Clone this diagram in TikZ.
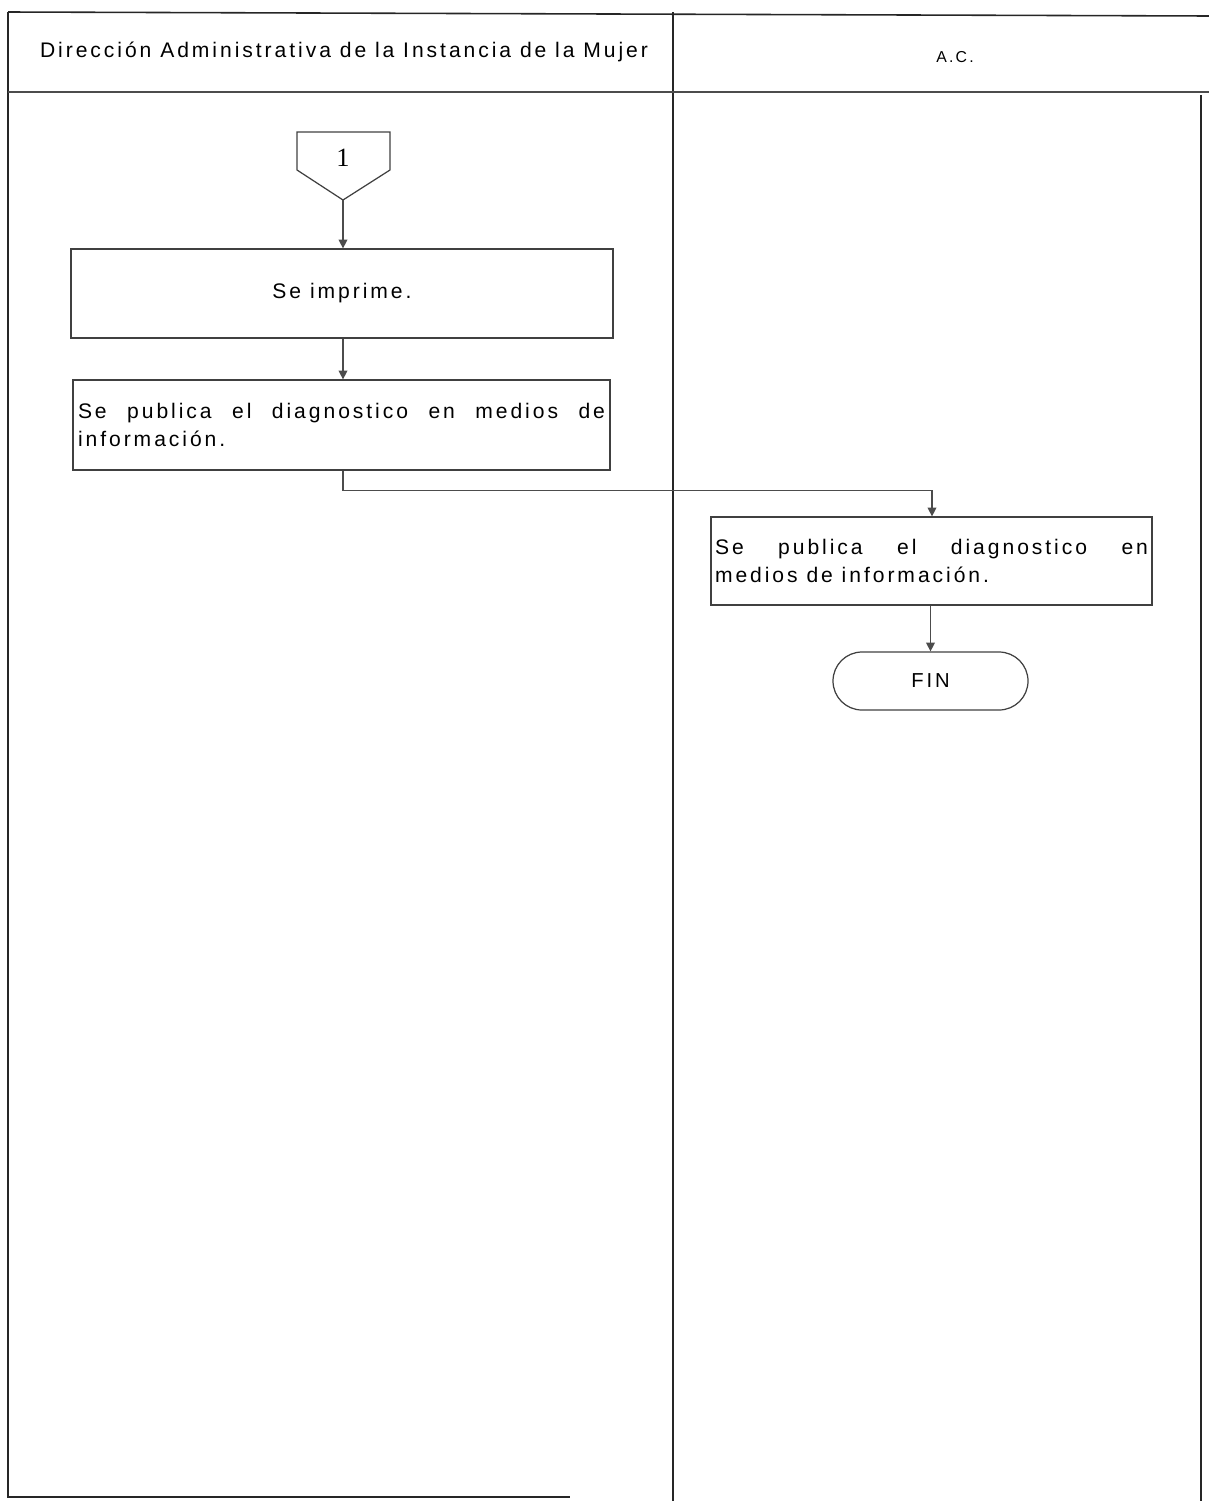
\documentclass[tikz,border=0pt]{standalone}
\usepackage{fontspec}
\setmainfont{Liberation Sans}[LetterSpace=14]
\newfontfamily\serifone{Liberation Serif}
\usetikzlibrary{arrows.meta}
\begin{document}
\begin{tikzpicture}[x=0.02cm,y=-0.02cm,
  lane/.style={line width=0.9pt,draw=black!85},
  procbox/.style={draw=black!75,line width=0.7pt,rectangle,inner sep=0pt,font=\fontsize{12}{15.5}\selectfont},
  flow/.style={draw=black!70,line width=0.7pt,-{Triangle[length=5pt,width=5pt]}},
  hdr/.style={font=\fontsize{12}{14}\selectfont}]
\useasboundingbox (0,0) rectangle (1209,1501);
% lanes
\draw[lane] (8,12) -- (1209,16);
\draw[lane] (8,12) -- (8,1497) -- (570,1497);
\draw[lane] (673,12) -- (673,1501);
\draw[lane] (1201,95) -- (1201,1501);
\draw[draw=black!70,line width=0.6pt] (8,92) -- (1209,92);
\node[hdr] (h1) at (344,52) {Dirección Administrativa de la Instancia de la Mujer};
\node[hdr] (h2) at (955,57) {\fontsize{9}{11}\selectfont A.C.};
% off-page connector
\draw[draw=black!75,line width=0.7pt] (297,132) -- (390,132) -- (390,170) -- (343,200) -- (297,170) -- cycle;
\node[font=\serifone\fontsize{15}{17}\selectfont] (c1) at (343,158) {1};
\coordinate (c1b) at (343,200);
% boxes
\node[procbox,minimum width=542*0.02cm,minimum height=89*0.02cm] (b1) at (342,293.5) {Se imprime.};
\node[procbox,minimum width=537*0.02cm,minimum height=90*0.02cm,text width=527*0.02cm,align=justify] (b2) at (341.5,425) {Se publica el diagnostico en medios de\linebreak información.};
\node[procbox,minimum width=441*0.02cm,minimum height=88*0.02cm,text width=433*0.02cm,align=justify] (b3) at (931.5,561) {Se publica el diagnostico en\linebreak medios de información.};
\node[draw=black!75,line width=0.7pt,rectangle,rounded corners=29*0.02cm,minimum width=195*0.02cm,minimum height=58*0.02cm,font=\fontsize{11.5}{13}\selectfont] (fin) at (930.5,681) {FIN};
% connectors
\draw[flow] (c1b) -- (b1.north -| c1b);
\draw[flow] (b1.south -| c1b) -- (b2.north -| c1b);
\draw[flow] (b2.south -| c1b) -- ++(0,20) -| (932,0 |- b3.north);
\draw[flow] (b3.south -| fin.north) -- (fin.north);
\end{tikzpicture}
\end{document}
